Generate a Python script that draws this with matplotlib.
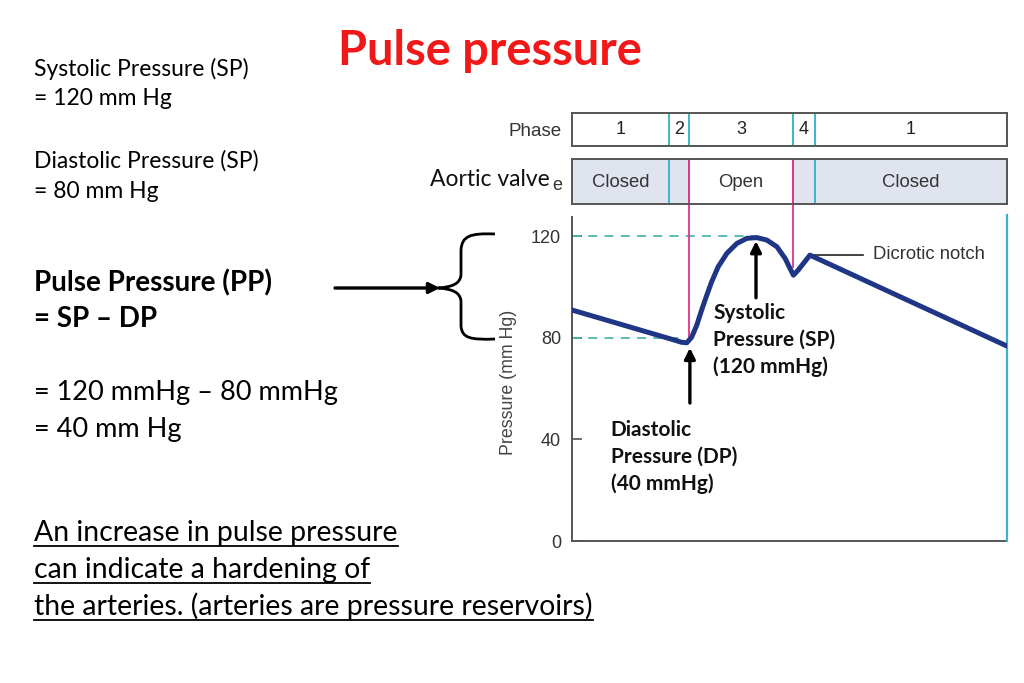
import matplotlib
matplotlib.use("Agg")
import matplotlib.pyplot as plt
from matplotlib.path import Path
import matplotlib.patches as mpatches

# ------------------------------------------------------------
# data (time as fraction of one cardiac cycle, pressure in mmHg)
# ------------------------------------------------------------
t_curve = [0.0, 0.225, 0.252, 0.264, 0.275, 0.287, 0.298, 0.310, 0.321, 0.336,
           0.356, 0.379, 0.402, 0.425, 0.448, 0.471, 0.490, 0.501, 0.509,
           0.520, 0.547, 1.0]
p_curve = [90.9, 79.6, 78.2, 78.0, 80.2, 85.0, 90.9, 96.8, 102.0, 107.9,
           113.2, 117.1, 119.1, 119.4, 118.4, 115.8, 111.2, 107.3, 104.6,
           106.6, 112.5, 76.7]

phase_edges = [0.0, 0.223, 0.269, 0.508, 0.559, 1.0]
phase_labels = ["1", "2", "3", "4", "1"]
valve_spans = [(0.0, 0.269, True), (0.269, 0.508, False), (0.508, 1.0, True)]
valve_labels = [(0.0, 0.223, "Closed"), (0.269, 0.508, "Open"),
                (0.559, 1.0, "Closed")]
valve_line_colors = ["#3cb4c8", "#e0338a", "#e0338a", "#3cb4c8"]

y_ticks = [0, 40, 80, 120]
systolic = 120
diastolic = 80
t_systolic = 0.423
t_diastolic = 0.271
t_notch = 0.547
p_notch = 112.5

NAVY = "#1f3585"
PINK = "#e0338a"
CYAN = "#3cb4c8"
DASH = "#4db6ac"
GRAY = "#555555"
VALVE = "#dfe4ee"

BODY = "Lato"
PLOT = "Liberation Sans"

W, H = 1024, 683
fig = plt.figure(figsize=(W / 100, H / 100), dpi=100)

def px_axes(x0, y0, x1, y1):
    # pixel box (top-left origin) -> figure axes
    return fig.add_axes([x0 / W, 1 - y1 / H, (x1 - x0) / W, (y1 - y0) / H])

# ---------- main pressure plot ----------
ax = px_axes(572, 217, 1007, 541)
ax.set_xlim(0, 1)
ax.set_ylim(0, 127.5)
ax.plot(t_curve, p_curve, color=NAVY, lw=3.6, solid_capstyle="round",
        solid_joinstyle="round", zorder=4)

for s in ["top", "right"]:
    ax.spines[s].set_visible(False)
for s in ["left", "bottom"]:
    ax.spines[s].set_color(GRAY)
    ax.spines[s].set_linewidth(1.4)
ax.set_xticks([])
ax.set_yticks(y_ticks)
ax.tick_params(axis="y", direction="in", length=7, width=1.2, color=GRAY,
               pad=8, labelsize=13, labelcolor="#333333")
for lab in ax.get_yticklabels():
    lab.set_family(PLOT)
ax.set_ylabel("Pressure (mm Hg)", fontsize=12.8, family=PLOT, color="#444444")
ax.yaxis.set_label_coords(-0.126, 0.49)

# dashed reference lines
ax.plot([0, t_systolic], [systolic, systolic], color=DASH, lw=1.3,
        ls=(0, (5, 4)), zorder=2)
ax.plot([0, 0.26], [diastolic, diastolic], color=DASH, lw=1.3,
        ls=(0, (5, 4)), zorder=2)

# phase boundary lines carried into the plot
ax.plot([phase_edges[2]] * 2, [80.5, 132.6], color=PINK, lw=1.3,
        clip_on=False, zorder=3)
ax.plot([phase_edges[3]] * 2, [108, 132.6], color=PINK, lw=1.3,
        clip_on=False, zorder=3)
ax.plot([1.0, 1.0], [0, 128.2], color=CYAN, lw=1.6, clip_on=False, zorder=3)

# arrows + annotations
ax.annotate("", xy=(t_systolic, 118.0), xytext=(t_systolic, 95.7),
            arrowprops=dict(arrowstyle="-|>", color="black", lw=2.4,
                            mutation_scale=16, shrinkA=0, shrinkB=0), zorder=5)
ax.annotate("", xy=(t_diastolic, 76.0), xytext=(t_diastolic, 54.3),
            arrowprops=dict(arrowstyle="-|>", color="black", lw=2.4,
                            mutation_scale=16, shrinkA=0, shrinkB=0), zorder=5)
ax.text(0.325, 93.8, "Systolic\nPressure (SP)\n(120 mmHg)", ha="left",
        va="top", fontsize=15, weight="bold", family=BODY,
        linespacing=1.42, color="#111111")
ax.text(0.089, 47.8, "Diastolic\nPressure (DP)\n(40 mmHg)", ha="left",
        va="top", fontsize=15, weight="bold", family=BODY,
        linespacing=1.42, color="#111111")

ax.plot([t_notch, 0.669], [p_notch, p_notch], color="#222222", lw=1.2)
ax.text(0.693, p_notch + 0.3, "Dicrotic notch", ha="left", va="center",
        fontsize=13.3, family=PLOT, color="#333333")

# ---------- phase row ----------
axp = px_axes(572, 113, 1007, 146)
axp.set_xlim(0, 1)
axp.set_ylim(0, 1)
axp.set_xticks([])
axp.set_yticks([])
for s in axp.spines.values():
    s.set_color(GRAY)
    s.set_linewidth(1.4)
for i, lab in enumerate(phase_labels):
    axp.text((phase_edges[i] + phase_edges[i + 1]) / 2, 0.5, lab,
             ha="center", va="center", fontsize=13, family=PLOT, color="#222222")
for x in phase_edges[1:-1]:
    axp.axvline(x, color=CYAN, lw=1.4)
axp.text(-0.023, 0.45, "Phase", transform=axp.transAxes, ha="right",
         va="center", fontsize=13.5, family=PLOT, color="#333333")

# ---------- aortic valve row ----------
axv = px_axes(572, 159, 1007, 204)
axv.set_xlim(0, 1)
axv.set_ylim(0, 1)
axv.set_xticks([])
axv.set_yticks([])
for s in axv.spines.values():
    s.set_color(GRAY)
    s.set_linewidth(1.4)
for x0, x1, shaded in valve_spans:
    if shaded:
        axv.axvspan(x0, x1, color=VALVE, lw=0)
for x0, x1, lab in valve_labels:
    axv.text((x0 + x1) / 2, 0.48, lab, ha="center", va="center",
             fontsize=13.3, family=PLOT, color="#333333")
for x, c in zip(phase_edges[1:-1], valve_line_colors):
    axv.axvline(x, color=c, lw=1.4)
axv.text(-0.022, 0.42, "e", transform=axv.transAxes, ha="right",
         va="center", fontsize=13, family=PLOT, color="#333333")
axv.text(-0.05, 0.55, "Aortic valve", transform=axv.transAxes, ha="right",
         va="center", fontsize=16.5, family=BODY, color="#111111")

# ---------- slide text overlay ----------
ov = fig.add_axes([0, 0, 1, 1])
ov.set_xlim(0, W)
ov.set_ylim(H, 0)
ov.axis("off")

ov.text(490, 65, "Pulse pressure", ha="center", va="baseline", fontsize=33.8,
        weight="bold", family=BODY, color="#f01818")

ov.text(34, 76, "Systolic Pressure (SP)", fontsize=16.5, family=BODY, va="baseline")
ov.text(34, 105, "= 120 mm Hg", fontsize=16.5, family=BODY, va="baseline")
ov.text(34, 168, "Diastolic Pressure (SP)", fontsize=16.5, family=BODY, va="baseline")
ov.text(34, 198, "= 80 mm Hg", fontsize=16.5, family=BODY, va="baseline")

ov.text(34, 291, "Pulse Pressure (PP)", fontsize=20, weight="bold",
        family=BODY, va="baseline")
ov.text(34, 327, "= SP \u2013 DP", fontsize=20, weight="bold",
        family=BODY, va="baseline")
ov.text(34, 400, "= 120 mmHg \u2013 80 mmHg", fontsize=19.5, family=BODY,
        va="baseline")
ov.text(34, 437, "= 40 mm Hg", fontsize=19.5, family=BODY, va="baseline")

bottom_lines = ["An increase in pulse pressure",
                "can indicate a hardening of",
                "the arteries. (arteries are pressure reservoirs)"]
bottom_y = [541, 578, 615]
texts = []
for s, y in zip(bottom_lines, bottom_y):
    texts.append(ov.text(34, y, s, fontsize=20.4, family=BODY, va="baseline"))

# arrow + brace
ov.annotate("", xy=(440, 288), xytext=(335, 288),
            arrowprops=dict(arrowstyle="-|>", color="black", lw=2.4,
                            mutation_scale=16, shrinkA=0, shrinkB=0))
verts = [(495, 234), (470, 233), (462, 236), (461, 250),
         (461, 275),
         (460, 284), (452, 287), (438, 288),
         (452, 289), (460, 292), (461, 301),
         (461, 326),
         (462, 338), (470, 340), (495, 339)]
codes = [Path.MOVETO, Path.CURVE4, Path.CURVE4, Path.CURVE4,
         Path.LINETO,
         Path.CURVE4, Path.CURVE4, Path.CURVE4,
         Path.CURVE4, Path.CURVE4, Path.CURVE4,
         Path.LINETO,
         Path.CURVE4, Path.CURVE4, Path.CURVE4]
ov.add_patch(mpatches.PathPatch(Path(verts, codes), fill=False, lw=2.0,
                                color="black"))

# underline the bottom sentence
fig.canvas.draw()
inv = ov.transData.inverted()
for t, y in zip(texts, bottom_y):
    bb = t.get_window_extent()
    x0 = inv.transform((bb.x0, 0))[0]
    x1 = inv.transform((bb.x1, 0))[0]
    ov.plot([x0, x1], [y + 5, y + 5], color="black", lw=1.3)

fig.savefig("out.png", dpi=100)
